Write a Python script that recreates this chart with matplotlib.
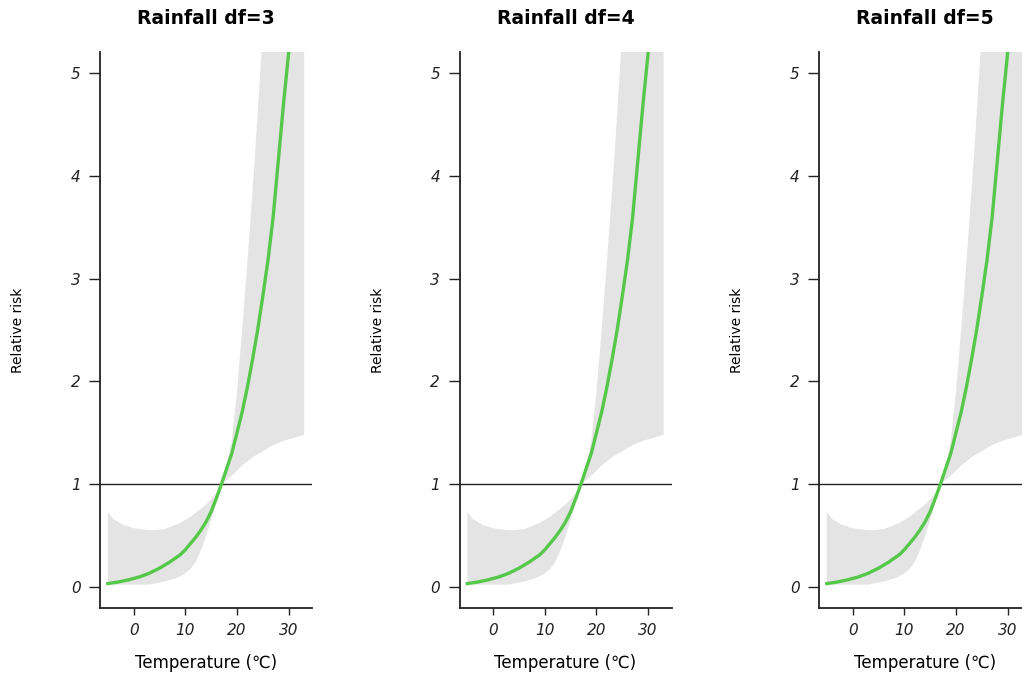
import matplotlib
matplotlib.use('Agg')
from matplotlib import pyplot as plt

# values (same fit in all three panels)
titles = ['Rainfall df=3', 'Rainfall df=4', 'Rainfall df=5']

temp = [-5, -3, -1, 0, 1, 3, 5, 7, 9, 10, 11, 12, 13, 14, 15, 16, 17, 19, 21, 22,
        23, 24, 25, 26, 27, 28, 29, 30, 31, 33]
rr = [0.030, 0.045, 0.066, 0.080, 0.093, 0.13, 0.18, 0.24, 0.31, 0.36, 0.42, 0.48,
      0.55, 0.63, 0.73, 0.86, 1.0, 1.30, 1.70, 1.94, 2.21, 2.50, 2.83, 3.18, 3.60,
      4.15, 4.70, 5.2, 5.8, 7.2]

band_temp = [-5, -4, -2, 0, 2, 3, 4, 6, 8, 9, 10, 11, 12, 13, 14, 15, 16, 17, 18,
             19, 20, 21, 22, 23, 24, 25, 27, 29, 31, 33]
rr_low = [0.02, 0.02, 0.02, 0.02, 0.02, 0.02, 0.03, 0.05, 0.08, 0.10, 0.13, 0.17,
          0.24, 0.35, 0.49, 0.65, 0.82, 1.0, 1.04, 1.08, 1.13, 1.18, 1.22, 1.26,
          1.29, 1.32, 1.38, 1.42, 1.45, 1.48]
rr_high = [0.73, 0.66, 0.60, 0.57, 0.555, 0.55, 0.55, 0.56, 0.60, 0.62, 0.65, 0.68,
           0.72, 0.76, 0.80, 0.85, 0.91, 1.0, 1.15, 1.42, 1.9, 2.5, 3.15, 3.85, 4.6,
           5.4, 8.0, 10.0, 12.0, 14.0]

x_ticks = [0, 10, 20, 30]
y_ticks = [0, 1, 2, 3, 4, 5]

fig = plt.figure(figsize=(10.22, 6.75), dpi=100)
lefts = [100 / 1022, 459.5 / 1022, 819 / 1022]
w = 212 / 1022
bottom = 1 - 608 / 675
h = 556 / 675

for left, title in zip(lefts, titles):
    ax = fig.add_axes([left, bottom, w, h])
    ax.fill_between(band_temp, rr_low, rr_high, color='#e4e4e4', linewidth=0)
    ax.axhline(1, color='#222222', linewidth=1.0)
    ax.plot(temp, rr, color='#55c84a', linewidth=2.4)

    ax.set_xlim(-6.52, 34.52)
    ax.set_ylim(-0.208, 5.208)
    ax.set_xticks(x_ticks)
    ax.set_yticks(y_ticks)
    for side in ['top', 'right']:
        ax.spines[side].set_visible(False)
    for side in ['left', 'bottom']:
        ax.spines[side].set_linewidth(1.3)
        ax.spines[side].set_color('#222222')
    ax.tick_params(axis='y', length=8, width=1.0, pad=6, labelsize=11, colors='#222222')
    ax.tick_params(axis='x', length=5, width=1.0, pad=6, labelsize=11, colors='#222222')
    for lab in ax.get_xticklabels() + ax.get_yticklabels():
        lab.set_fontstyle('italic')

    ax.text(0.5, 1 + 34 / 556, title, transform=ax.transAxes, ha='center',
            va='center', fontsize=13.5, fontweight='bold')
    ax.text(0.5, -55 / 556, 'Temperature (℃)', transform=ax.transAxes,
            ha='center', va='center', fontsize=12)
    ax.text(-82 / 212, 0.5, 'Relative risk', transform=ax.transAxes,
            ha='center', va='center', rotation=90, fontsize=10,
            family=['Liberation Sans Narrow', 'DejaVu Sans'])

plt.savefig('out.png')
